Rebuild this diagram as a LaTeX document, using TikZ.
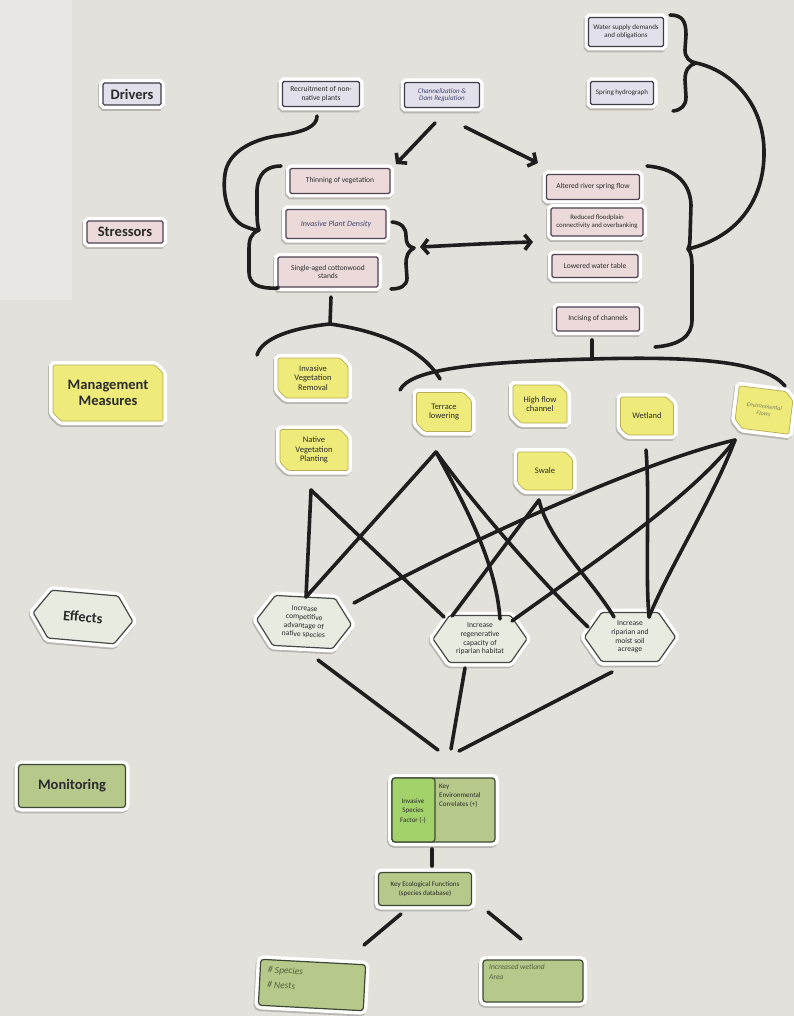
\documentclass[tikz,border=0pt]{standalone}
\usepackage{fontspec}
\setmainfont{Carlito}
\usetikzlibrary{shapes.misc,shapes.symbols,arrows.meta,calc}

\definecolor{paper}{HTML}{E3E1DB}
\definecolor{paperlt}{HTML}{E8E7E3}
\definecolor{ink}{HTML}{1E1E1E}
\definecolor{drvfill}{HTML}{E2E1EB}
\definecolor{drvline}{HTML}{3E3B4A}
\definecolor{strfill}{HTML}{EBDAD9}
\definecolor{strline}{HTML}{4F4253}
\definecolor{yelfill}{HTML}{EEEB7A}
\definecolor{yelline}{HTML}{B8AC55}
\definecolor{efffill}{HTML}{E8EBE0}
\definecolor{effline}{HTML}{474845}
\definecolor{monfill}{HTML}{B6C88A}
\definecolor{monline}{HTML}{3D4834}
\definecolor{monbright}{HTML}{A4D26A}
\definecolor{pen}{HTML}{3F4470}
\definecolor{pencil}{HTML}{55603F}
\definecolor{txt}{HTML}{2A2A2A}
\definecolor{shade}{HTML}{B8B6B0}

\tikzset{
  backed/.style={
    preaction={draw=shade, fill=shade, line width=8pt,
               transform canvas={shift={(-1pt,-1.8pt)}}},
    preaction={draw=white, fill=white, line width=8pt}},
  card/.style={backed, rounded corners=1.5pt, line width=1.2pt, inner sep=1pt,
               align=center, text=txt, font=\fontsize{7.5}{8.4}\selectfont},
  drv/.style={card, draw=drvline, fill=drvfill},
  strs/.style={card, draw=strline, fill=strfill},
  yel/.style={card, shape=chamfered rectangle,
              chamfered rectangle corners={north east,south west},
              chamfered rectangle xsep=5pt, draw=yelline, fill=yelfill,
              line width=0.7pt, font=\fontsize{8.5}{9.6}\selectfont},
  hexa/.style={card, shape=signal, signal to=east and west,
               signal pointer angle=110, draw=effline, fill=efffill,
               font=\fontsize{7.6}{8.6}\selectfont},
  mon/.style={card, draw=monline, fill=monfill, rounded corners=3pt},
  lab/.style={font=\bfseries\fontsize{14.5}{16}\selectfont},
  hw/.style={font=\itshape\fontsize{7}{7.6}\selectfont, text=pen},
  mk/.style={draw=ink, line width=3.6pt, line cap=round, line join=round},
  tip/.style={-{Straight Barb[length=6pt,width=15pt]}},
  tips/.style={{Straight Barb[length=6pt,width=15pt]}-{Straight Barb[length=6pt,width=15pt]}},
}

\begin{document}
\begin{tikzpicture}[x=1pt, y=-1pt]
\useasboundingbox (0,0) rectangle (794,1016);
\fill[paper] (0,0) rectangle (794,1016);
\fill[paperlt] (0,0) rectangle (72,300);

% ---------------- row labels ----------------
\node[drv, lab, minimum width=58pt, minimum height=22pt] (lDrivers) at (132,94) {Drivers};
\node[strs, lab, minimum width=76pt, minimum height=22pt] (lStressors) at (125,232) {Stressors};
\node[yel, lab, minimum width=110pt, minimum height=56pt] (lMgmt) at (108,393) {Management\\Measures};
\node[hexa, lab, minimum width=100pt, minimum height=48pt, rotate=-5] (lEffects) at (83,617) {Effects};
\node[mon, lab, minimum width=107pt, minimum height=43pt] (lMonitor) at (72,786) {Monitoring};

% ---------------- drivers ----------------
\node[drv, minimum width=77pt, minimum height=25pt] (dRecruit) at (321,94) {Recruitment of non-\\native plants};
\node[drv, minimum width=75pt, minimum height=25pt, hw] (dChannel) at (442,95)
  {Channelization \&\\Dam Regulation};
\node[drv, minimum width=75pt, minimum height=29pt, font=\fontsize{7}{8}\selectfont] (dWater) at (626,32) {Water supply demands\\and obligations};
\node[drv, minimum width=63pt, minimum height=23pt, font=\fontsize{7}{8}\selectfont] (dSpring) at (622,93) {Spring hydrograph};

% ---------------- stressors ----------------
\node[strs, minimum width=100pt, minimum height=25pt] (sThin) at (340,181) {Thinning of vegetation};
\node[strs, minimum width=100pt, minimum height=29pt, hw, font=\itshape\fontsize{8}{9}\selectfont] (sInv) at (336,224) {Invasive Plant Density};
\node[strs, minimum width=100pt, minimum height=30pt] (sSingle) at (328,272) {Single-aged cottonwood\\stands};
\node[strs, minimum width=93pt, minimum height=25pt] (sAlter) at (593,187) {Altered river spring flow};
\node[strs, minimum width=92pt, minimum height=28pt, font=\fontsize{6.8}{7.8}\selectfont] (sReduce) at (597,222) {Reduced floodplain\\connectivity and overbanking};
\node[strs, minimum width=86pt, minimum height=23pt] (sLower) at (595,266) {Lowered water table};
\node[strs, minimum width=83pt, minimum height=24pt] (sIncise) at (598,319) {Incising of channels};

% ---------------- management measures ----------------
\node[yel, minimum width=70pt, minimum height=40pt] (mRemoval) at (313,378) {Invasive\\Vegetation\\Removal};
\node[yel, minimum width=68pt, minimum height=41pt] (mPlanting) at (314,450) {Native\\Vegetation\\Planting};
\node[yel, minimum width=55pt, minimum height=39pt] (mTerrace) at (444,412) {Terrace\\lowering};
\node[yel, minimum width=54pt, minimum height=38pt] (mHigh) at (540,404) {High flow\\channel};
\node[yel, minimum width=55pt, minimum height=38pt] (mSwale) at (545,471) {Swale};
\node[yel, minimum width=53pt, minimum height=38pt] (mWetland) at (647,416) {Wetland};
\node[yel, minimum width=55pt, minimum height=42pt, rotate=-7, font=\itshape\fontsize{6}{7}\selectfont, text=pencil!80] (mFlows) at (764,410) {Environmental\\Flows};

% ---------------- effects ----------------
\node[hexa, minimum width=95pt, minimum height=50pt, rotate=-3] (eComp) at (304,622) {Increase\\competitive\\advantage of\\native species};
\node[hexa, minimum width=94pt, minimum height=47pt] (eRegen) at (480,639) {Increase\\regenerative\\capacity of\\riparian habitat};
\node[hexa, minimum width=91pt, minimum height=49pt] (eAcre) at (630,637) {Increase\\riparian and\\moist soil\\acreage};

% ---------------- monitoring ----------------
\node[mon, minimum width=103pt, minimum height=64pt] (kSplit) at (443.5,810) {};
\node[draw=monline, fill=monbright, line width=1.2pt, rounded corners=3pt, minimum width=43pt, minimum height=64pt, inner sep=0pt] (kLeft) at (413.5,810) {};
\node[align=center, text=txt, font=\fontsize{7}{9.6}\selectfont] (kInvasive) at (413,811) {Invasive\\Species\\Factor (-)};
\node[anchor=north west, align=left, text=txt, font=\fontsize{7}{9}\selectfont, inner sep=0pt] (kCorrel) at (439,784) {Key\\Environmental\\Correlates (+)};
\node[mon, minimum width=93pt, minimum height=33pt, font=\fontsize{7}{8.4}\selectfont] (kFunc) at (425,889) {Key Ecological Functions\\(species database)};
\node[mon, minimum width=105pt, minimum height=46pt, rotate=-3] (kSpecies) at (312,985) {};
\node[anchor=north west, align=left, rotate=-3, text=pencil, font=\itshape\fontsize{9.5}{15}\selectfont, inner sep=0pt] (kSpeciesT) at (268,966) {\# Species\\\# Nests};
\node[mon, minimum width=100pt, minimum height=42pt] (kWet) at (533,981) {};
\node[anchor=north west, align=left, text=pencil, font=\itshape\fontsize{7.5}{10}\selectfont, inner sep=0pt] (kWetT) at (489,964) {Increased wetland\\Area};

% ---------------- drivers to stressors ----------------
\coordinate (rA) at (317,116);
\coordinate (rJ) at (259,230);
\draw[mk] (rA) .. controls (317,126) and (306,132) .. (276,136)
          .. controls (252,140) and (228,152) .. (225,174)
          .. controls (222,196) and (228,216) .. (242,225)
          .. controls (248,228) and (254,230) .. (rJ);
% brace around the left stressors
\coordinate (bLt) at (281,166);
\coordinate (bLb) at (278,288);
\draw[mk] (bLt) .. controls (266,166) and (258,174) .. (257,190) -- (257,212)
          .. controls (257,222) and (258,228) .. (rJ)
          .. controls (250,234) and (249,240) .. (249,250) -- (249,272)
          .. controls (249,284) and (258,289) .. (bLb);
% brace around invasive density and cottonwood stands
\coordinate (bMt) at (392,222);
\coordinate (bMtip) at (414,248);
\coordinate (bMb) at (391,289);
\draw[mk] (bMt) .. controls (402,223) and (406,228) .. (406,236)
          .. controls (406,243) and (408,247) .. (bMtip)
          .. controls (408,251) and (406,256) .. (406,264) -- (407,278)
          .. controls (407,286) and (400,289) .. (bMb);
% two-way link between stressor groups
\coordinate (aL) at (420,247);
\coordinate (aR) at (533,242);
\draw[mk, tips] (aL) .. controls (460,245) and (495,243) .. (aR);
% channelization arrows
\coordinate (cL0) at (435,123);
\coordinate (cL1) at (396,164);
\coordinate (cR0) at (465,127);
\coordinate (cR1) at (538,163);
\draw[mk, tip] (cL0) -- (cL1);
\draw[mk, tip] (cR0) -- (cR1);
% brace for water supply and spring hydrograph
\coordinate (wT) at (670,15);
\coordinate (wTip) at (696,63);
\coordinate (wB) at (673,111);
\draw[mk] (wT) .. controls (683,15) and (686,22) .. (686,35) -- (685,50)
          .. controls (685,58) and (690,62) .. (wTip)
          .. controls (689,65) and (685,70) .. (685,80) -- (686,97)
          .. controls (686,106) and (681,110) .. (wB);
% brace around the right stressors
\coordinate (bRt) at (647,166);
\coordinate (bRtip) at (688,249);
\coordinate (bRb) at (655,347);
\draw[mk] (bRt) .. controls (672,168) and (690,180) .. (691,205) -- (690,238)
          .. controls (690,244) and (689,247) .. (bRtip)
          .. controls (691,252) and (692,258) .. (692,268) -- (692,320)
          .. controls (692,336) and (680,345) .. (bRb);
% sweep from the hydrology drivers to the right stressors
\draw[mk] (wTip) .. controls (730,70) and (763,102) .. (764,150)
          .. controls (765,195) and (742,236) .. (bRtip);

% ---------------- stressors to management ----------------
\coordinate (uL0) at (331,297);
\coordinate (uL1) at (330,324);
\coordinate (uLa) at (257,355);
\coordinate (uLb) at (440,379);
\draw[mk] (uL0) -- (uL1);
\draw[mk] (uLa) .. controls (262,338) and (292,328) .. (uL1)
          .. controls (372,330) and (420,345) .. (uLb);
\coordinate (uR0) at (592,340);
\coordinate (uR1) at (592,359);
\coordinate (uRa) at (400,390);
\coordinate (uRb) at (785,386);
\draw[mk] (uR0) -- (uR1);
\draw[mk] (uRa) .. controls (410,370) and (470,362) .. (uR1)
          .. controls (700,356) and (765,362) .. (uRb);

% ---------------- management to effects ----------------
\coordinate (pP) at (311,490);
\coordinate (pT) at (436,452);
\coordinate (pS) at (539,500);
\coordinate (pE) at (735,440);
\coordinate (pW) at (646,450);
\coordinate (eC1) at (306,597);
\coordinate (eC2) at (354,603);
\coordinate (eR1) at (444,617);
\coordinate (eR2) at (452,616);
\coordinate (eR3) at (500,619);
\coordinate (eR4) at (512,621);
\coordinate (eA1) at (588,627);
\coordinate (eA2) at (614,617);
\coordinate (eA3) at (649,617);
\draw[mk] (pP) -- (eC1);
\draw[mk] (pP) -- (eR1);
\draw[mk] (pT) -- (eC1);
\draw[mk] (pT) .. controls (462,500) and (496,560) .. (eR3);
\draw[mk] (pT) .. controls (478,510) and (545,585) .. (eA1);
\draw[mk] (pS) -- (eR2);
\draw[mk] (pS) .. controls (548,540) and (592,580) .. (eA2);
\draw[mk] (pE) .. controls (640,462) and (460,545) .. (eC2);
\draw[mk] (pE) .. controls (690,500) and (575,575) .. (eR4);
\draw[mk] (pE) .. controls (712,500) and (668,570) .. (eA3);
\draw[mk] (pW) .. controls (650,500) and (645,570) .. (eA3);

% ---------------- effects to monitoring ----------------
\coordinate (fC) at (318,660);
\coordinate (fR) at (465,668);
\coordinate (fA) at (612,672);
\coordinate (hL) at (438,750);
\coordinate (hM) at (451,749);
\coordinate (hR) at (459,751);
\draw[mk] (fC) -- (hL);
\draw[mk] (fR) -- (hM);
\draw[mk] (fA) -- (hR);

% ---------------- monitoring chain ----------------
\coordinate (kS0) at (432,849);
\coordinate (kS1) at (432,866);
\draw[mk] (kS0) -- (kS1);
\coordinate (kL0) at (401,914);
\coordinate (kL1) at (364,945);
\coordinate (kR0) at (488,912);
\coordinate (kR1) at (521,939);
\draw[mk] (kL0) -- (kL1);
\draw[mk] (kR0) -- (kR1);
\end{tikzpicture}
\end{document}
